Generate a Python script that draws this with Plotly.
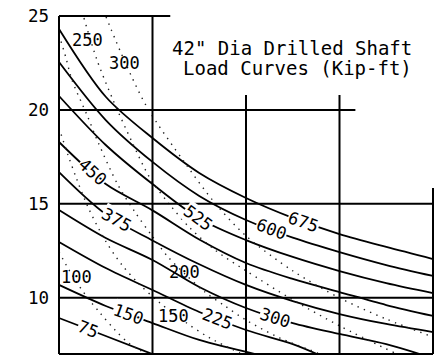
import numpy as np
import plotly.graph_objects as go

# ---- axis values -------------------------------------------------------
y_ticks = [7, 10, 15, 20, 25]
y_tick_text = ["7", "10", "15", "20", "25"]

# ---- solid load curves (kip-ft), x in chart columns 0..4 -----------------
grid_x = [0, 0.5, 1, 1.5, 2, 2.5, 3, 3.5, 4]
s675 = [24.31, 20.70, 18.50, 16.64, 15.31, 14.25, 13.39, 12.70, 12.06]
s600 = [22.55, 19.46, 17.23, 15.42, 14.14, 13.20, 12.43, 11.74, 11.16]
s525 = [20.74, 18.13, 16.05, 14.22, 13.07, 12.17, 11.42, 10.78, 10.25]
s450 = [18.29, 16.05, 14.65, 13.10, 11.85, 11.00, 10.30, 9.61, 9.03]
s375 = [16.69, 14.45, 13.05, 11.78, 10.68, 9.82, 9.13, 8.60, 8.17]
s300_x = [0, 0.5, 1, 1.5, 2, 2.5, 3, 3.5, 3.86]
s300 = [14.67, 13.18, 12.01, 10.57, 9.45, 8.65, 8.07, 7.53, 7.00]
s225_x = [0, 0.5, 1, 1.5, 2, 2.5, 2.76]
s225 = [12.97, 11.58, 10.41, 9.24, 8.28, 7.53, 7.00]
s150_x = [0, 0.5, 1, 1.5, 2.1]
s150 = [10.68, 9.56, 8.65, 7.75, 7.00]
s75_x = [0, 0.5, 1]
s75 = [8.92, 7.96, 7.00]

# ---- dotted load curves (kip-ft) ------------------------------------------
d300_x = [0.503, 0.706, 0.941, 1.348, 1.668, 2.0, 2.503, 3.005, 3.497, 4.0]
d300 = [24.95, 22.55, 20.15, 17.17, 15.04, 13.29, 11.42, 9.98, 8.87, 7.91]
d250_x = [0.267, 0.406, 0.578, 0.781, 0.973, 1.187, 1.401, 1.668, 1.989, 2.503, 3.005, 3.594]
d250 = [24.89, 22.66, 20.53, 18.29, 16.37, 14.94, 13.71, 12.54, 11.47, 9.88, 8.49, 7.05]
d200_x = [0, 0.075, 0.139, 0.299, 0.417, 0.631, 0.813, 0.995, 1.166, 1.348, 1.561, 1.775, 2.0, 2.364, 2.77]
d200 = [23.99, 22.76, 21.59, 19.73, 18.29, 16.00, 14.56, 13.29, 12.17, 11.26, 10.30, 9.56, 8.81, 7.85, 7.06]
d150_x = [0, 0.096, 0.193, 0.310, 0.492, 0.674, 0.866, 1.080, 1.348, 1.615, 1.936]
d150 = [19.04, 17.60, 16.27, 14.83, 13.07, 11.74, 10.68, 9.72, 8.71, 7.85, 7.06]
d100_x = [0, 0.139, 0.299, 0.439, 0.599, 0.759, 0.92]
d100 = [12.43, 11.21, 10.04, 9.19, 8.28, 7.53, 7.06]

solid_curves = [
    ("675", grid_x, s675, 2.62),
    ("600", grid_x, s600, 2.27),
    ("525", grid_x, s525, 1.49),
    ("450", grid_x, s450, 0.36),
    ("375", grid_x, s375, 0.62),
    ("300", s300_x, s300, 2.32),
    ("225", s225_x, s225, 1.70),
    ("150", s150_x, s150, 0.74),
    ("75", s75_x, s75, 0.31),
]
dotted_curves = [
    ("300", d300_x, d300, 0.70, 22.50),
    ("250", d250_x, d250, 0.31, 23.72),
    ("200", d200_x, d200, 1.34, 11.37),
    ("150", d150_x, d150, 1.22, 9.05),
    ("100", d100_x, d100, 0.19, 11.10),
]

# ---- geometry of the drawing -------------------------------------------
W, H = 442, 359
PX_X = 93.5      # pixels per column
PX_Y = 18.78     # pixels per y unit
X0_PX, Y25_PX = 59, 16
ML, MR, MT, MB = 50, 5, 12, 2
x_range = [(ML - X0_PX) / PX_X, (W - MR - X0_PX) / PX_X]
y_range = [25 - (H - MB - Y25_PX) / PX_Y, 25 + (Y25_PX - MT) / PX_Y]

FONT = "DejaVu Sans Mono"

fig = go.Figure()

for name, xs, ys, _ in solid_curves:
    fig.add_trace(go.Scatter(
        x=xs, y=ys, mode="lines", name=name, hoverinfo="skip",
        line=dict(color="black", width=1.8, shape="spline", smoothing=0.9),
    ))

for name, xs, ys, _, _ in dotted_curves:
    fig.add_trace(go.Scatter(
        x=xs, y=ys, mode="lines", name=name, hoverinfo="skip",
        line=dict(color="#222222", width=1.4, dash="1.4px,5.4px",
                  shape="spline", smoothing=0.9),
    ))

# stepped frame of the chart
frame = [
    (0, 7, 0, 25), (0, 25, 1.19, 25), (1, 7, 1, 25),
    (0, 20, 3.17, 20), (2, 7, 2, 20.8), (3, 7, 3, 20.8),
    (0, 15, 4, 15), (4, 7, 4, 15.84), (0, 10, 4, 10), (0, 7, 4, 7),
]
for x0, y0, x1, y1 in frame:
    fig.add_shape(type="line", xref="x", yref="y", x0=x0, y0=y0, x1=x1, y1=y1,
                  line=dict(color="black", width=2), layer="above")

# inline labels on the solid curves, rotated with the local slope
for name, xs, ys, lx in solid_curves:
    ly = float(np.interp(lx, xs, ys))
    i = int(np.clip(np.searchsorted(xs, lx), 1, len(xs) - 1))
    dx = (xs[i] - xs[i - 1]) * PX_X
    dy = (ys[i - 1] - ys[i]) * PX_Y
    ang = float(np.degrees(np.arctan2(dy, dx)))
    fig.add_annotation(x=lx, y=ly, xref="x", yref="y", text=name,
                       showarrow=False, textangle=ang, bgcolor="white",
                       borderpad=0, font=dict(family=FONT, size=17, color="black"))

# labels of the dotted curves
for name, xs, ys, lx, ly in dotted_curves:
    fig.add_annotation(x=lx, y=ly, xref="x", yref="y", text=name,
                       showarrow=False, font=dict(family=FONT, size=17, color="black"))

# title block
fig.add_annotation(x=3.80, y=23.30, xref="x", yref="y", xanchor="right",
                   text='42" Dia Drilled Shaft', showarrow=False,
                   font=dict(family=FONT, size=19, color="black"))
fig.add_annotation(x=3.80, y=22.23, xref="x", yref="y", xanchor="right",
                   text="Load Curves (Kip-ft)", showarrow=False,
                   font=dict(family=FONT, size=19, color="black"))

fig.update_layout(
    width=W, height=H,
    margin=dict(l=ML, r=MR, t=MT, b=MB),
    paper_bgcolor="white", plot_bgcolor="white",
    showlegend=False,
    xaxis=dict(range=x_range, showgrid=False, zeroline=False, showline=False,
               showticklabels=False, ticks=""),
    yaxis=dict(range=y_range, showgrid=False, zeroline=False, showline=False,
               tickvals=y_ticks, ticktext=y_tick_text, ticks="",
               ticklabelstandoff=0, automargin=False,
               tickfont=dict(family=FONT, size=17.5, color="black")),
)

fig.write_html("out.html")
